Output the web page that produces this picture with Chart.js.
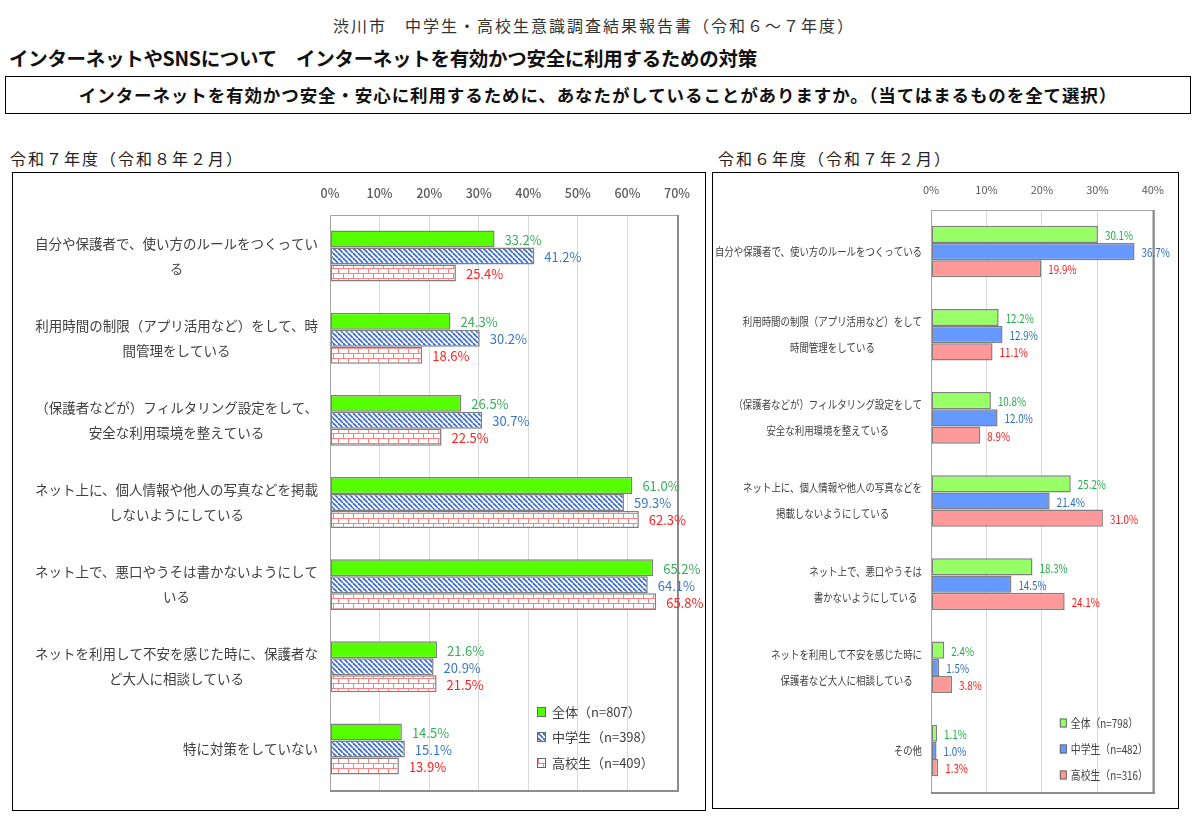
<!DOCTYPE html>
<html lang="ja">
<head>
<meta charset="utf-8">
<script src="https://cdn.jsdelivr.net/npm/chart.js@4.4.1/dist/chart.umd.min.js"></script>
<style>
body{margin:0;background:#fff;font-family:"Noto Sans CJK JP",sans-serif;color:#222;width:1197px;height:823px;position:relative;overflow:hidden}
.report{position:absolute;top:13px;left:0;width:1188px;text-align:center;font-size:16px;letter-spacing:2px;color:#333}
.heading{position:absolute;top:43px;left:9px;font-size:19.5px;font-weight:bold;color:#111;letter-spacing:-0.3px}
.question{position:absolute;top:76px;left:5px;width:1186px;height:38px;box-sizing:border-box;border:1px solid #000;text-align:center;line-height:35px;font-size:17.5px;letter-spacing:0.9px;font-weight:bold;color:#111}
.year{position:absolute;top:146px;font-size:16px;letter-spacing:2px;color:#222}
.frame{position:absolute;box-sizing:border-box;border:1px solid #000}
.frame canvas{position:absolute;left:0;top:0}
</style>
</head>
<body>
<div class="report">渋川市　中学生・高校生意識調査結果報告書（令和６～７年度）</div>
<div class="heading">インターネットやSNSについて　インターネットを有効かつ安全に利用するための対策</div>
<div class="question">インターネットを有効かつ安全・安心に利用するために、あなたがしていることがありますか。（当てはまるものを全て選択）</div>
<div class="year" style="left:10px">令和７年度（令和８年２月）</div>
<div class="year" style="left:718px">令和６年度（令和７年２月）</div>
<div class="frame" style="left:12px;top:172px;width:694px;height:639px"><canvas id="c7" width="692" height="637"></canvas></div>
<div class="frame" style="left:712px;top:172px;width:467px;height:637px"><canvas id="c6" width="465" height="635"></canvas></div>
<script>
// 令和7年度
let cats7 = [
  ['自分や保護者で、使い方のルールをつくってい', 'る'],
  ['利用時間の制限（アプリ活用など）をして、時', '間管理をしている'],
  ['（保護者などが）フィルタリング設定をして、', '安全な利用環境を整えている'],
  ['ネット上に、個人情報や他人の写真などを掲載', 'しないようにしている'],
  ['ネット上で、悪口やうそは書かないようにして', 'いる'],
  ['ネットを利用して不安を感じた時に、保護者な', 'ど大人に相談している'],
  ['特に対策をしていない']
]
let all7 = [33.2, 24.3, 26.5, 61.0, 65.2, 21.6, 14.5]
let jhs7 = [41.2, 30.2, 30.7, 59.3, 64.1, 20.9, 15.1]
let hs7 = [25.4, 18.6, 22.5, 62.3, 65.8, 21.5, 13.9]
let series7 = ['全体（n=807）', '中学生（n=398）', '高校生（n=409）']
let ticks7 = [0, 10, 20, 30, 40, 50, 60, 70]

// 令和6年度
let cats6 = [
  ['自分や保護者で、使い方のルールをつくっている'],
  ['利用時間の制限（アプリ活用など）をして', '時間管理をしている'],
  ['（保護者などが）フィルタリング設定をして', '安全な利用環境を整えている'],
  ['ネット上に、個人情報や他人の写真などを', '掲載しないようにしている'],
  ['ネット上で、悪口やうそは', '書かないようにしている'],
  ['ネットを利用して不安を感じた時に', '保護者など大人に相談している'],
  ['その他']
]
let all6 = [30.1, 12.2, 10.8, 25.2, 18.3, 2.4, 1.1]
let jhs6 = [36.7, 12.9, 12.0, 21.4, 14.5, 1.5, 1.0]
let hs6 = [19.9, 11.1, 8.9, 31.0, 24.1, 3.8, 1.3]
let series6 = ['全体（n=798）', '中学生（n=482）', '高校生（n=316）']
let ticks6 = [0, 10, 20, 30, 40]

const JP = '"Noto Sans CJK JP", sans-serif'

// patterns for the 2026 chart
function hatchPattern(){
  let c = document.createElement('canvas')
  c.width = 5; c.height = 5
  let x = c.getContext('2d')
  x.fillStyle = '#fff'
  x.fillRect(0, 0, 5, 5)
  x.strokeStyle = '#3f6fd0'
  x.lineWidth = 1.8
  for (let k = -5; k <= 5; k += 5) {
    x.beginPath(); x.moveTo(k, 0); x.lineTo(k + 5, 5); x.stroke()
  }
  return x.createPattern(c, 'repeat')
}
function brickPattern(){
  let c = document.createElement('canvas')
  c.width = 10; c.height = 10
  let x = c.getContext('2d')
  x.fillStyle = '#fff'
  x.fillRect(0, 0, 10, 10)
  x.fillStyle = '#ff7f7f'
  x.fillRect(0, 0, 10, 1)
  x.fillRect(0, 5, 10, 1)
  x.fillRect(0, 0, 1, 5)
  x.fillRect(5, 5, 1, 5)
  return x.createPattern(c, 'repeat')
}

// squeezed text (the original uses a condensed font)
function squeezeText(ctx, txt, x, y, sx){
  ctx.save()
  ctx.translate(x, y)
  ctx.scale(sx, 1)
  ctx.fillText(txt, 0, 0)
  ctx.restore()
}

// category labels: block right aligned, lines centred (like Excel)
const catLabels = {
  id: 'catLabels',
  afterDraw(chart, args, o){
    let ctx = chart.ctx
    let ys = chart.scales.y
    ctx.save()
    ctx.font = o.font
    ctx.fillStyle = '#404040'
    ctx.textAlign = 'center'
    ctx.textBaseline = 'middle'
    chart.data.labels.forEach((lines, i) => {
      let w = Math.max(...lines.map(l => ctx.measureText(l).width)) * o.sx
      let cx = chart.chartArea.left - o.gap - w / 2
      let cy = ys.getPixelForValue(i)
      lines.forEach((l, k) => {
        squeezeText(ctx, l, cx, cy + (k - (lines.length - 1) / 2) * o.lineH, o.sx)
      })
    })
    ctx.restore()
  }
}

const valueLabels = {
  id: 'valueLabels',
  afterDatasetsDraw(chart, args, o){
    let ctx = chart.ctx
    ctx.save()
    ctx.font = o.font
    ctx.textAlign = 'left'
    ctx.textBaseline = 'middle'
    chart.data.datasets.forEach((ds, i) => {
      ctx.fillStyle = o.colors[i]
      chart.getDatasetMeta(i).data.forEach((bar, j) => {
        squeezeText(ctx, ds.data[j].toFixed(1) + '%', bar.x + o.gap, bar.y + 1, o.sx)
      })
    })
    ctx.restore()
  }
}

const frameBox = {
  id: 'frameBox',
  afterDatasetsDraw(chart){
    let a = chart.chartArea
    let ctx = chart.ctx
    ctx.save()
    ctx.strokeStyle = '#a6a6a6'
    ctx.lineWidth = 1
    ctx.strokeRect(a.left + 0.5, a.top + 0.5, a.right - a.left, a.bottom - a.top)
    ctx.strokeStyle = '#8c8c8c'
    ctx.lineWidth = 2
    ctx.beginPath(); ctx.moveTo(a.right + 1, a.top); ctx.lineTo(a.right + 1, a.bottom + 2); ctx.stroke()
    ctx.beginPath(); ctx.moveTo(a.left, a.bottom + 1); ctx.lineTo(a.right + 2, a.bottom + 1); ctx.stroke()
    ctx.restore()
  }
}

const boxLegend = {
  id: 'boxLegend',
  afterDraw(chart, args, o){
    let ctx = chart.ctx
    let a = chart.chartArea
    ctx.save()
    ctx.font = o.font
    ctx.textBaseline = 'middle'
    chart.data.datasets.forEach((ds, i) => {
      let x = a.right - o.right
      let y = a.bottom - o.bottoms[i]
      ctx.fillStyle = ds.backgroundColor
      ctx.fillRect(x, y - o.h / 2, o.w, o.h)
      ctx.strokeStyle = '#666'
      ctx.lineWidth = 1
      ctx.strokeRect(x + 0.5, y - o.h / 2 + 0.5, o.w - 1, o.h - 1)
      ctx.fillStyle = '#404040'
      squeezeText(ctx, ds.label, x + o.w + o.textGap, y, o.sx)
    })
    ctx.restore()
  }
}

function makeChart(id, cats, sets, names, tickVals, st){
  let colors = st.fills
  new Chart(id, {
    type: 'bar',
    data: {
      labels: cats,
      datasets: sets.map((d, i) => ({
        label: names[i],
        data: d,
        backgroundColor: colors[i],
        borderColor: '#7f7f7f',
        borderWidth: 1.5,
        borderSkipped: false,
        categoryPercentage: st.catPct,
        barPercentage: 1
      }))
    },
    options: {
      indexAxis: 'y',
      responsive: false,
      animation: false,
      layout: { padding: { left: 0, top: 0, right: st.padRight, bottom: st.padBottom } },
      scales: {
        x: {
          position: 'top',
          min: 0,
          max: tickVals[tickVals.length - 1],
          afterBuildTicks: s => { s.ticks = tickVals.map(v => ({ value: v })) },
          afterFit: s => { s.height = st.top },
          border: { display: false },
          grid: { color: '#d9d9d9', drawTicks: false, lineWidth: 1 },
          ticks: {
            callback: v => v + '%',
            color: '#595959',
            padding: st.tickPad,
            maxRotation: 0,
            font: { family: JP, size: st.tickSize, weight: st.tickWeight }
          }
        },
        y: {
          afterFit: s => { s.width = st.left },
          border: { display: false },
          grid: { display: false },
          ticks: { display: false }
        }
      },
      plugins: {
        legend: { display: false },
        tooltip: { enabled: false },
        catLabels: { font: st.catFont, lineH: st.lineH, gap: st.catGap, sx: st.sx },
        valueLabels: { font: st.valFont, colors: st.valColors, gap: st.valGap, sx: st.sx },
        boxLegend: Object.assign({ sx: st.sx }, st.legend)
      }
    },
    plugins: [frameBox, valueLabels, catLabels, boxLegend]
  })
}

makeChart('c7', cats7, [all7, jhs7, hs7], series7, ticks7, {
  fills: ['#55ff00', hatchPattern(), brickPattern()],
  catPct: 0.62, sx: 1,
  padRight: 28, padBottom: 20, top: 42, left: 317,
  tickPad: 14, tickSize: 12.5, tickWeight: '500',
  catFont: '13.5px ' + JP, lineH: 25, catGap: 12,
  valFont: '13px ' + JP, valColors: ['#3aaf5a', '#3a78c8', '#ff2222'], valGap: 10,
  legend: { font: '13px ' + JP, right: 140, bottoms: [78, 53, 27], w: 9, h: 10, textGap: 6 }
})

makeChart('c6', cats6, [all6, jhs6, hs6], series6, ticks6, {
  fills: ['#99ff66', '#6699ff', '#ff9999'],
  catPct: 0.62, sx: 0.82,
  padRight: 22, padBottom: 16, top: 37, left: 218,
  tickPad: 14, tickSize: 11, tickWeight: 'normal',
  catFont: '11.5px ' + JP, lineH: 26, catGap: 9,
  valFont: '12px ' + JP, valColors: ['#22b04a', '#2f6fc0', '#ff1a1a'], valGap: 7,
  legend: { font: '12px ' + JP, right: 93, bottoms: [69, 43, 17], w: 7, h: 9, textGap: 4 }
})
</script>
</body>
</html>
